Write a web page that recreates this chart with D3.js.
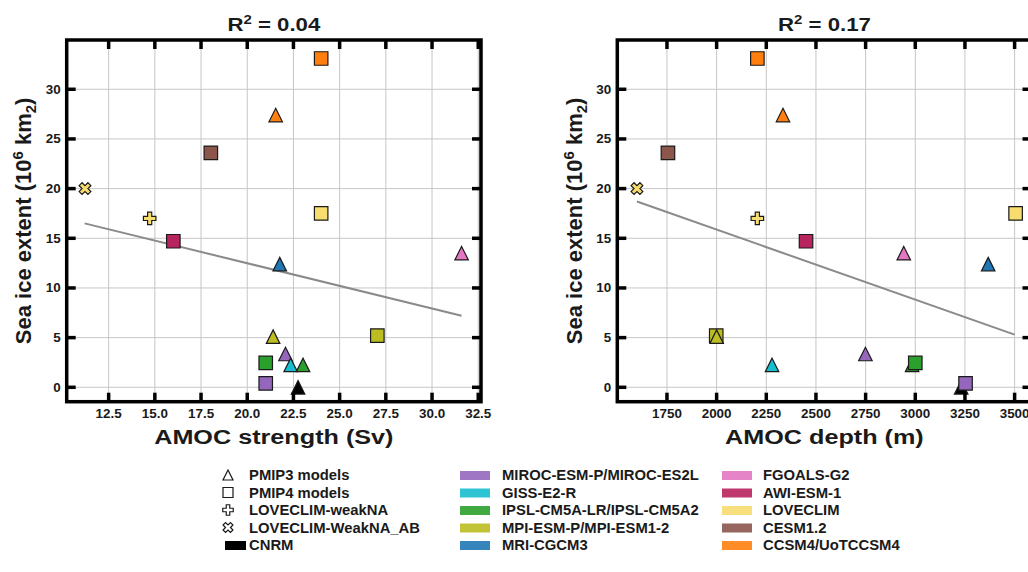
<!DOCTYPE html>
<html lang="en">
<head>
<meta charset="UTF-8">
<title>Sea ice extent vs AMOC</title>
<style>
  body { margin: 0; background: #fff; }
  text { font-family: "Liberation Sans", Arial, sans-serif; font-weight: bold; fill: #1a1a1a; }
</style>
</head>
<body>
<script src="https://d3js.org/d3.v7.min.js"></script>
<script>
// models and their colours
var models = ["CNRM", "MIROC-ESM-P/MIROC-ES2L", "GISS-E2-R", "IPSL-CM5A-LR/IPSL-CM5A2",
              "MPI-ESM-P/MPI-ESM1-2", "MRI-CGCM3", "FGOALS-G2", "AWI-ESM-1",
              "LOVECLIM", "CESM1.2", "CCSM4/UoTCCSM4"];
var modelColors = ["#000000", "#9467bd", "#17becf", "#2ca02c", "#bcbd22", "#1f77b4",
                   "#e377c2", "#b8245e", "#f7dc6f", "#8c564b", "#ff7f0e"];

// one entry per simulation, in drawing order
// tri = PMIP3, sq = PMIP4, plus = LOVECLIM-weakNA, x = LOVECLIM-WeakNA_AB
var pointModel   = ["CNRM", "MIROC-ESM-P/MIROC-ES2L", "MIROC-ESM-P/MIROC-ES2L", "GISS-E2-R",
                    "IPSL-CM5A-LR/IPSL-CM5A2", "IPSL-CM5A-LR/IPSL-CM5A2", "MPI-ESM-P/MPI-ESM1-2",
                    "MPI-ESM-P/MPI-ESM1-2", "MRI-CGCM3", "FGOALS-G2", "AWI-ESM-1", "LOVECLIM",
                    "LOVECLIM", "LOVECLIM", "CESM1.2", "CCSM4/UoTCCSM4", "CCSM4/UoTCCSM4"];
var pointShape   = ["tri", "tri", "sq", "tri", "tri", "sq", "sq", "tri", "tri", "tri", "sq", "sq",
                    "plus", "x", "sq", "tri", "sq"];
var amocStrength = [22.75, 22.07, 21.0, 22.35, 23.02, 21.0, 27.04, 21.4, 21.76, 31.6, 16.0, 24.0,
                    14.72, 11.22, 18.03, 21.54, 24.0];
var amocDepth    = [3231, 2749, 3253, 2279, 2984, 3000, 1998, 2000, 3367, 2942, 2450, 3505,
                    2205, 1599, 1755, 2334, 2205];
var seaIce       = [0.0, 3.35, 0.4, 2.25, 2.25, 2.45, 5.2, 5.1, 12.4, 13.5, 14.7, 17.5,
                    17.0, 20.0, 23.6, 27.4, 33.1];

// regression lines (end points)
var fitStrengthX = [11.2, 31.6], fitStrengthY = [16.5, 7.2];
var fitDepthX = [1599, 3500],   fitDepthY = [18.7, 5.3];
var r2Values = ["0.04", "0.17"];

var strengthTicks = [12.5, 15, 17.5, 20, 22.5, 25, 27.5, 30, 32.5];
var depthTicks = [1750, 2000, 2250, 2500, 2750, 3000, 3250, 3500];
var iceTicks = [0, 5, 10, 15, 20, 25, 30];

var legendShapeLabels = ["PMIP3 models", "PMIP4 models", "LOVECLIM-weakNA", "LOVECLIM-WeakNA_AB"];
var legendShapes = ["tri", "sq", "plus", "x"];

const W = 1028, H = 572;
const plotTop = 40, plotBottom = 401.7;

const svg = d3.select("body").append("svg")
    .attr("width", W).attr("height", H);

var color = d3.scaleOrdinal(models, modelColors);
var y = d3.scaleLinear().domain([-1.45, 34.96]).range([plotBottom, plotTop]);

// marker outlines centred on 0,0
function shapePath(shape, s) {
    var h = s / 2;
    if (shape == "tri") return "M0," + (-h) + "L" + h + "," + h + "L" + (-h) + "," + h + "Z";
    if (shape == "sq") return "M" + (-h) + "," + (-h) + "H" + h + "V" + h + "H" + (-h) + "Z";
    var a = h, b = s / 6;
    return "M" + (-b) + "," + (-a) + "H" + b + "V" + (-b) + "H" + a + "V" + b + "H" + b +
           "V" + a + "H" + (-b) + "V" + b + "H" + (-a) + "V" + (-b) + "H" + (-b) + "Z";
}

// text with a horizontal stretch, as in the original figure
function wideText(g, px, py, sx, size, anchor) {
    return g.append("text")
        .attr("transform", "translate(" + px + "," + py + ") scale(" + sx + ",1)")
        .attr("font-size", size)
        .attr("text-anchor", anchor);
}

function panel(x0, x1, xDomain, xTicks, xFmt, xVals, fitX, fitY, r2, xLabel) {
    var x = d3.scaleLinear().domain(xDomain).range([x0, x1]);
    var g = svg.append("g");

    // grid
    g.selectAll(".gx").data(xTicks).enter().append("line")
        .attr("x1", d => x(d)).attr("x2", d => x(d))
        .attr("y1", plotTop).attr("y2", plotBottom)
        .attr("stroke", "#c6c6c6").attr("stroke-width", 1);
    g.selectAll(".gy").data(iceTicks).enter().append("line")
        .attr("x1", x0).attr("x2", x1)
        .attr("y1", d => y(d)).attr("y2", d => y(d))
        .attr("stroke", "#c6c6c6").attr("stroke-width", 1);

    // fit line
    g.append("path")
        .attr("d", d3.line()([[x(fitX[0]), y(fitY[0])], [x(fitX[1]), y(fitY[1])]]))
        .attr("stroke", "#8a8a8a").attr("stroke-width", 2).attr("fill", "none");

    // points
    g.selectAll(".pt").data(seaIce).enter().append("path")
        .attr("transform", (d, i) => "translate(" + x(xVals[i]) + "," + y(d) + ")" +
              (pointShape[i] == "x" ? " rotate(45)" : ""))
        .attr("d", (d, i) => shapePath(pointShape[i], pointShape[i] == "tri" || pointShape[i] == "sq" ? 13.5 : 12.5))
        .attr("fill", (d, i) => color(pointModel[i]))
        .attr("stroke", "#1a1a1a").attr("stroke-width", 1.2)
        .attr("stroke-linejoin", "miter");

    // frame
    g.append("rect")
        .attr("x", x0).attr("y", plotTop)
        .attr("width", x1 - x0).attr("height", plotBottom - plotTop)
        .attr("fill", "none").attr("stroke", "#000").attr("stroke-width", 3.5);

    // inward ticks on all four sides
    var tl = 9;
    g.selectAll(".tb").data(xTicks).enter().append("line")
        .attr("x1", d => x(d)).attr("x2", d => x(d))
        .attr("y1", plotBottom).attr("y2", plotBottom - tl)
        .attr("stroke", "#000").attr("stroke-width", 3.5);
    g.selectAll(".tt").data(xTicks).enter().append("line")
        .attr("x1", d => x(d)).attr("x2", d => x(d))
        .attr("y1", plotTop).attr("y2", plotTop + tl)
        .attr("stroke", "#000").attr("stroke-width", 3.5);
    g.selectAll(".tlf").data(iceTicks).enter().append("line")
        .attr("x1", x0).attr("x2", x0 + tl)
        .attr("y1", d => y(d)).attr("y2", d => y(d))
        .attr("stroke", "#000").attr("stroke-width", 3.5);
    g.selectAll(".tr").data(iceTicks).enter().append("line")
        .attr("x1", x1).attr("x2", x1 - tl)
        .attr("y1", d => y(d)).attr("y2", d => y(d))
        .attr("stroke", "#000").attr("stroke-width", 3.5);

    // tick labels
    xTicks.forEach(function(t) {
        wideText(g, x(t), 418, 1.12, 12, "middle").text(xFmt(t));
    });
    iceTicks.forEach(function(t) {
        wideText(g, x0 - 6, y(t) + 4.3, 1.12, 12, "end").text(t);
    });

    // title
    var cx = (x0 + x1) / 2;
    var ti = wideText(g, cx, 31, 1.2, 18.5, "middle");
    ti.append("tspan").text("R");
    ti.append("tspan").attr("dy", -7).attr("font-size", 12.5).text("2");
    ti.append("tspan").attr("dy", 7).text(" = " + r2);

    // axis labels
    wideText(g, cx, 443.5, 1.2, 21, "middle").text(xLabel);
    var yl = g.append("text")
        .attr("transform", "translate(" + (x0 - 35.5) + "," + ((plotTop + plotBottom) / 2) + ") rotate(-90)")
        .attr("font-size", 22).attr("text-anchor", "middle");
    yl.append("tspan").text("Sea ice extent (10");
    yl.append("tspan").attr("dy", -8).attr("font-size", 15).text("6");
    yl.append("tspan").attr("dy", 8).text(" km");
    yl.append("tspan").attr("dy", 5).attr("font-size", 15).text("2");
    yl.append("tspan").attr("dy", -5).text(")");
}

panel(66.7, 481, [10.23, 32.65], strengthTicks, d3.format(".1f"), amocStrength,
      fitStrengthX, fitStrengthY, r2Values[0], "AMOC strength (Sv)");
panel(617.3, 1031.5, [1500, 3585], depthTicks, d3.format("d"), amocDepth,
      fitDepthX, fitDepthY, r2Values[1], "AMOC depth (m)");

// legend
var rowY = d3.scalePoint().domain(d3.range(5)).range([475, 545]);
var leg = svg.append("g");
legendShapes.forEach(function(s, i) {
    leg.append("path")
        .attr("transform", "translate(228," + rowY(i) + ")" + (s == "x" ? " rotate(45)" : ""))
        .attr("d", shapePath(s, s == "tri" || s == "sq" ? 10 : 10.5))
        .attr("fill", "none").attr("stroke", "#1a1a1a").attr("stroke-width", 1.2);
    wideText(leg, 249, rowY(i) + 5, 1.06, 14, "start").text(legendShapeLabels[i]);
});
// CNRM sits at the bottom of the first column
leg.append("rect").attr("x", 225).attr("y", rowY(4) - 4).attr("width", 21).attr("height", 9)
    .attr("fill", color(models[0]));
wideText(leg, 249, rowY(4) + 5, 1.06, 14, "start").text(models[0]);

var colX = [460, 722], textX = [502, 763];
models.slice(1).forEach(function(m, i) {
    var c = Math.floor(i / 5), r = i % 5;
    leg.append("rect").attr("x", colX[c]).attr("y", rowY(r) - 4).attr("width", 30).attr("height", 9)
        .attr("fill", color(m)).attr("opacity", 0.9);
    wideText(leg, textX[c], rowY(r) + 5, 1.06, 14, "start").text(m);
});
</script>
</body>
</html>
